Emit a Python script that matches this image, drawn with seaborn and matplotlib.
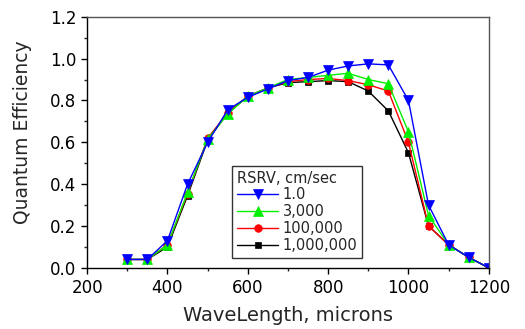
import matplotlib
matplotlib.use("Agg")
import matplotlib.pyplot as plt
from matplotlib.ticker import MultipleLocator, FormatStrFormatter
import numpy as np
import pandas as pd
import seaborn as sns

wavelength = [300, 350, 400, 450, 500, 550, 600, 650, 700, 750,
              800, 850, 900, 950, 1000, 1050, 1100, 1150, 1200]
qe_1 = [0.04, 0.04, 0.13, 0.40, 0.60, 0.755, 0.815, 0.855, 0.895, 0.91,
        0.945, 0.965, 0.975, 0.97, 0.80, 0.30, 0.11, 0.05, 0.0]
qe_3000 = [0.04, 0.04, 0.11, 0.36, 0.615, 0.735, 0.82, 0.86, 0.90, 0.91,
           0.92, 0.93, 0.90, 0.88, 0.65, 0.25, 0.11, 0.05, 0.0]
qe_100000 = [0.04, 0.04, 0.11, 0.355, 0.62, 0.74, 0.82, 0.86, 0.89, 0.90,
             0.905, 0.895, 0.875, 0.845, 0.60, 0.20, 0.11, 0.05, 0.0]
qe_1000000 = [0.04, 0.04, 0.10, 0.345, 0.61, 0.74, 0.82, 0.86, 0.885, 0.89,
              0.895, 0.89, 0.845, 0.75, 0.55, 0.20, 0.11, 0.05, 0.0]
series_labels = ["1.0", "3,000", "100,000", "1,000,000"]

series_values = [qe_1, qe_3000, qe_100000, qe_1000000]
colors = {"1.0": "#0000FF", "3,000": "#00F000", "100,000": "#FF0000", "1,000,000": "#000000"}
markers = {"1.0": "v", "3,000": "^", "100,000": "o", "1,000,000": "s"}
msizes = {"1.0": 6.5, "3,000": 6.5, "100,000": 5.5, "1,000,000": 4.8}

df = pd.DataFrame({
    "WaveLength": np.tile(wavelength, len(series_labels)),
    "QE": np.concatenate(series_values),
    "RSRV": np.repeat(series_labels, len(wavelength)),
})

sns.set_theme(style="ticks")
plt.rcParams["font.family"] = ["DejaVu Sans"]

fig = plt.figure(figsize=(5.25, 3.29), dpi=100)
ax = fig.add_axes([0.166, 0.186, 0.765, 0.763])

handles = {}
# draw the highest recombination velocity first so the 1.0 curve sits on top
for lab in reversed(series_labels):
    sub = df[df["RSRV"] == lab]
    sns.lineplot(data=sub, x="WaveLength", y="QE", ax=ax, color=colors[lab],
                 marker=markers[lab], markersize=msizes[lab], markeredgewidth=0.5,
                 markeredgecolor=colors[lab], linewidth=1.0, label=lab, legend=False)
    handles[lab] = ax.lines[-1]

ax.set_xlim(200, 1200)
ax.set_ylim(0, 1.2)
ax.xaxis.set_major_locator(MultipleLocator(200))
ax.xaxis.set_minor_locator(MultipleLocator(100))
ax.yaxis.set_major_locator(MultipleLocator(0.2))
ax.yaxis.set_minor_locator(MultipleLocator(0.1))
ax.yaxis.set_major_formatter(FormatStrFormatter("%.1f"))
ax.tick_params(axis="both", which="major", direction="out", length=4.3, width=1,
               labelsize=12, colors="black", pad=3.5)
ax.tick_params(axis="both", which="minor", direction="out", length=2.5, width=1)
ax.tick_params(top=False, right=False)
for sp in ax.spines.values():
    sp.set_color("black")
    sp.set_linewidth(1.0)
ax.spines["top"].set_color("#555555")
ax.spines["right"].set_color("#555555")

ax.set_xlabel("WaveLength, microns", fontsize=14, labelpad=7)
ax.set_ylabel("Quantum Efficiency", fontsize=13.5)
ax.yaxis.set_label_coords(-0.138, 0.54)

leg = ax.legend([handles[l] for l in series_labels], series_labels,
                title="RSRV, cm/sec", loc="lower left",
                bbox_to_anchor=(0.361, 0.04), borderaxespad=0.0,
                fontsize=10.5, title_fontsize=10.5,
                frameon=True, fancybox=False, edgecolor="black",
                handlelength=2.8, handletextpad=0.3, borderpad=0.35,
                labelspacing=0.12)
leg._legend_box.align = "left"
leg.get_frame().set_linewidth(1.0)

fig.savefig("out.png", dpi=100)
